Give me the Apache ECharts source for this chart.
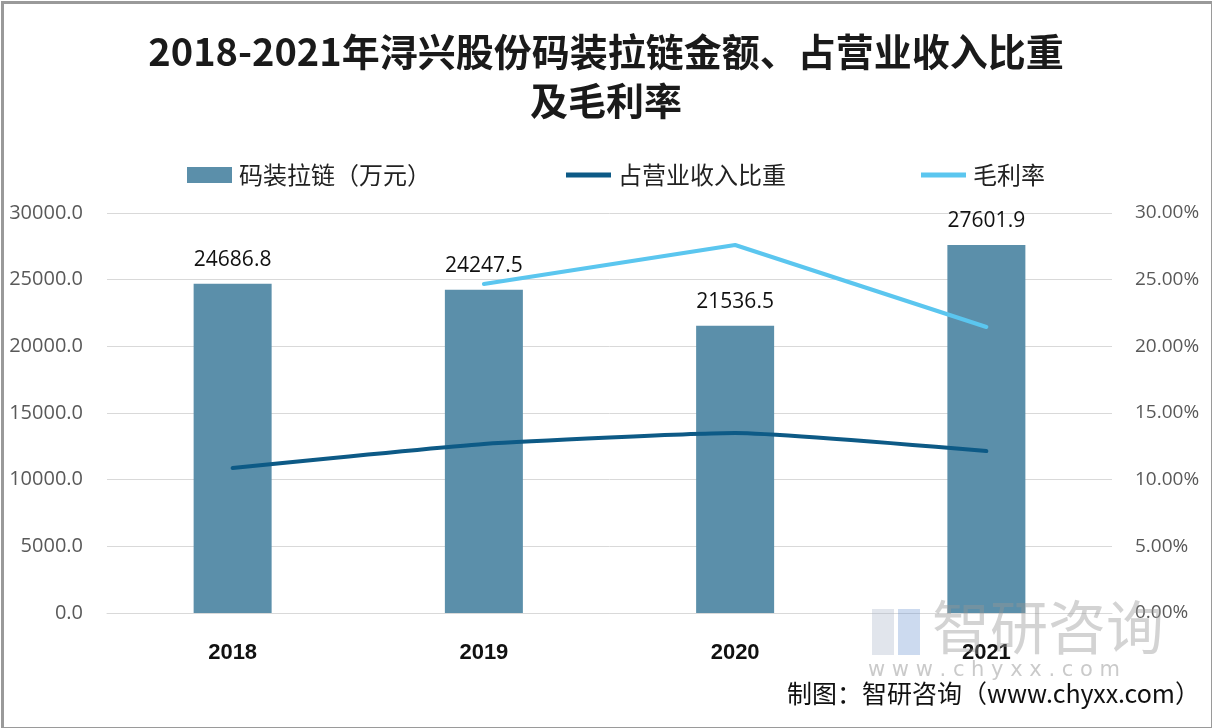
<!DOCTYPE html>
<html><head><meta charset="utf-8">
<script src="https://cdn.jsdelivr.net/npm/echarts@6/dist/echarts.min.js"></script>
<style>html,body{margin:0;padding:0;background:#fff}#c{width:1212px;height:728px}</style>
</head><body><div id="c"></div>
<script>
const categories = ['2018', '2019', '2020', '2021'];
const zipperAmount = [24686.8, 24247.5, 21536.5, 27601.9];
const revenueShare = [10.88, 12.68, 13.5, 12.15];
const grossMargin = [null, 24.68, 27.6, 21.45];
const leftTicks = { min: 0, max: 30000, interval: 5000 };
const rightTicks = { min: 0, max: 30, interval: 5 };

const chart = echarts.init(document.getElementById('c'));
const cjk = '"Noto Sans CJK SC", "Noto Sans", sans-serif';
const lineIcon = 'path://M0,0 L45,0 L45,5 L0,5 Z';
chart.setOption({
  backgroundColor: '#fff',
  animation: false,
  title: {
    text: '2018-2021年浔兴股份码装拉链金额、占营业收入比重\n及毛利率',
    left: 'center', top: 22,
    textStyle: { fontFamily: cjk, fontSize: 38, fontWeight: 'bold', color: '#1a1a1a', lineHeight: 49 }
  },
  legend: {
    top: 158, left: 182,
    itemGap: 135, itemWidth: 45, itemHeight: 16,
    textStyle: { fontFamily: cjk, fontSize: 24, color: '#222', padding: [0, 0, 0, 2] },
    data: [
      { name: '码装拉链（万元）', icon: 'rect' },
      { name: '占营业收入比重', icon: lineIcon },
      { name: '毛利率', icon: lineIcon }
    ]
  },
  grid: { left: 107, right: 100, top: 213, bottom: 115 },
  xAxis: {
    type: 'category', data: categories,
    axisLine: { show: true, lineStyle: { color: '#d9d9d9' } },
    axisTick: { show: false },
    axisLabel: { fontFamily: 'Liberation Sans, Arial, sans-serif', fontSize: 22, fontWeight: 'bold', color: '#111', margin: 29 }
  },
  yAxis: [{
    type: 'value', min: leftTicks.min, max: leftTicks.max, interval: leftTicks.interval,
    axisLine: { show: false }, axisTick: { show: false },
    splitLine: { lineStyle: { color: '#d9d9d9', width: 1 } },
    axisLabel: { fontFamily: 'Open Sans, sans-serif', fontSize: 20, color: '#595959', margin: 24,
      formatter: v => v.toFixed(1) }
  }, {
    type: 'value', min: rightTicks.min, max: rightTicks.max, interval: rightTicks.interval,
    axisLine: { show: false }, axisTick: { show: false }, splitLine: { show: false },
    axisLabel: { fontFamily: 'Open Sans, sans-serif', fontSize: 19, color: '#595959', margin: 23,
      formatter: v => v.toFixed(2) + '%' }
  }],
  series: [{
    name: '码装拉链（万元）', type: 'bar', data: zipperAmount, barWidth: 78,
    itemStyle: { color: '#5b8faa' },
    label: { show: true, position: 'top', distance: 13, fontFamily: 'Open Sans, sans-serif', fontSize: 21, color: '#111',
      formatter: p => p.value.toFixed(1) }
  }, {
    name: '占营业收入比重', type: 'line', yAxisIndex: 1, data: revenueShare,
    showSymbol: false, symbol: 'none', smooth: 0.15,
    itemStyle: { color: '#0d5a86' },
    lineStyle: { color: '#0d5a86', width: 4, cap: 'round' }
  }, {
    name: '毛利率', type: 'line', yAxisIndex: 1, data: grossMargin,
    showSymbol: false, symbol: 'none',
    itemStyle: { color: '#5bc6ef' },
    lineStyle: { color: '#5bc6ef', width: 4, cap: 'round' }
  }],
  graphic: [
    { type: 'rect', left: 0, top: 0, shape: { width: 1210, height: 726 }, style: { fill: 'none', stroke: '#9a9a9a', lineWidth: 3 }, z: 100 },
    { type: 'text', left: 932, top: 598, style: { text: '智研咨询', font: '58px "Noto Sans CJK SC"', fill: 'rgba(150,150,150,0.42)' }, z: 50 },
    { type: 'rect', left: 872, top: 609, shape: { width: 22, height: 46 }, style: { fill: 'rgba(170,180,200,0.35)' }, z: 50 },
    { type: 'rect', left: 898, top: 609, shape: { width: 22, height: 46 }, style: { fill: 'rgba(110,150,210,0.35)' }, z: 50 },
    { type: 'text', left: 868, top: 660, style: { text: 'w w w . c h y x x . c o m', font: '21px "DejaVu Sans"', fill: 'rgba(150,150,150,0.5)' }, z: 50 },
    { type: 'text', right: 12, top: 681, style: { text: '制图：智研咨询（www.chyxx.com）', font: '25px "Noto Sans CJK SC"', fill: '#111' }, z: 60 }
  ]
});
</script></body></html>
